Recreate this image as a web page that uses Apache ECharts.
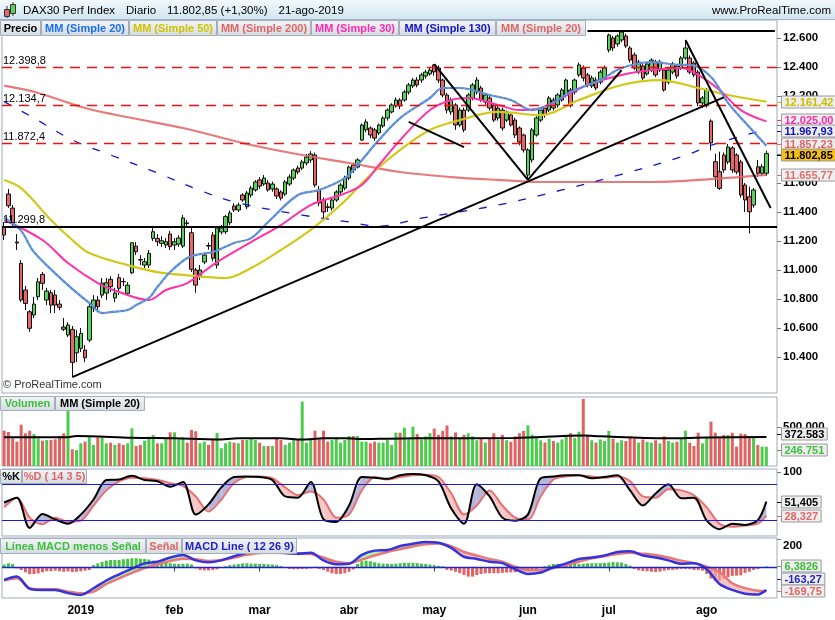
<!DOCTYPE html>
<html><head><meta charset="utf-8">
<script src="https://cdn.jsdelivr.net/npm/echarts@6.0.0/dist/echarts.min.js"></script>
<style>html,body{margin:0;padding:0;background:#fff;}#chart{width:835px;height:620px;}</style>
</head><body><div id="chart"></div>
<script>
const dates = ["2018-11-30",
"2018-12-03","2018-12-04","2018-12-05","2018-12-06","2018-12-07","2018-12-10","2018-12-11","2018-12-12","2018-12-13","2018-12-14","2018-12-17","2018-12-18","2018-12-19","2018-12-20","2018-12-21","2018-12-27","2018-12-28",
"2019-01-02","2019-01-03","2019-01-04","2019-01-07","2019-01-08","2019-01-09","2019-01-10","2019-01-11","2019-01-14","2019-01-15","2019-01-16","2019-01-17","2019-01-18","2019-01-21","2019-01-22","2019-01-23","2019-01-24","2019-01-25","2019-01-28","2019-01-29","2019-01-30","2019-01-31",
"2019-02-01","2019-02-04","2019-02-05","2019-02-06","2019-02-07","2019-02-08","2019-02-11","2019-02-12","2019-02-13","2019-02-14","2019-02-15","2019-02-18","2019-02-19","2019-02-20","2019-02-21","2019-02-22","2019-02-25","2019-02-26","2019-02-27","2019-02-28",
"2019-03-01","2019-03-04","2019-03-05","2019-03-06","2019-03-07","2019-03-08","2019-03-11","2019-03-12","2019-03-13","2019-03-14","2019-03-15","2019-03-18","2019-03-19","2019-03-20","2019-03-21","2019-03-22","2019-03-25","2019-03-26","2019-03-27","2019-03-28","2019-03-29",
"2019-04-01","2019-04-02","2019-04-03","2019-04-04","2019-04-05","2019-04-08","2019-04-09","2019-04-10","2019-04-11","2019-04-12","2019-04-15","2019-04-16","2019-04-17","2019-04-18","2019-04-23","2019-04-24","2019-04-25","2019-04-26","2019-04-29","2019-04-30",
"2019-05-02","2019-05-03","2019-05-06","2019-05-07","2019-05-08","2019-05-09","2019-05-10","2019-05-13","2019-05-14","2019-05-15","2019-05-16","2019-05-17","2019-05-20","2019-05-21","2019-05-22","2019-05-23","2019-05-24","2019-05-27","2019-05-28","2019-05-29","2019-05-30","2019-05-31",
"2019-06-03","2019-06-04","2019-06-05","2019-06-06","2019-06-07","2019-06-11","2019-06-12","2019-06-13","2019-06-14","2019-06-17","2019-06-18","2019-06-19","2019-06-20","2019-06-21","2019-06-24","2019-06-25","2019-06-26","2019-06-27","2019-06-28",
"2019-07-01","2019-07-02","2019-07-03","2019-07-04","2019-07-05","2019-07-08","2019-07-09","2019-07-10","2019-07-11","2019-07-12","2019-07-15","2019-07-16","2019-07-17","2019-07-18","2019-07-19","2019-07-22","2019-07-23","2019-07-24","2019-07-25","2019-07-26","2019-07-29","2019-07-30","2019-07-31",
"2019-08-01","2019-08-02","2019-08-05","2019-08-06","2019-08-07","2019-08-08","2019-08-09","2019-08-12","2019-08-13","2019-08-14","2019-08-15","2019-08-16","2019-08-19","2019-08-20","2019-08-21"];

const openP = [11299,11524,11427,11193,11046,10862,10712,10690,10816,10970,
10793,10843,10828,10765,10607,10552,10591,10429,10460,10448,
10517,10738,10793,10827,10841,10936,10807,10947,10921,10839,
10981,11165,11072,11034,11034,11218,11218,11184,11172,11248,
11172,11179,11165,11325,11257,11000,10954,11055,11169,11241,
11034,11262,11264,11326,11441,11414,11517,11436,11517,11552,
11621,11593,11600,11559,11559,11538,11524,11593,11634,11703,
11703,11738,11759,11793,11552,11483,11436,11427,11483,11538,
11565,11634,11724,11710,11896,11966,11979,11966,11945,11993,
12048,12090,12131,12172,12172,12227,12269,12310,12310,12338,
12352,12414,12393,12310,12207,12090,12138,12000,12103,12103,
12186,12227,12255,12158,12186,12138,12048,12103,12034,12069,
12034,11979,11931,11655,11759,11931,12034,12117,12103,12172,
12138,12172,12207,12241,12227,12345,12393,12345,12269,12310,
12296,12324,12517,12600,12559,12586,12614,12531,12483,12365,
12407,12352,12379,12434,12379,12379,12296,12365,12407,12393,
12462,12462,12428,12365,12152,12138,12027,11747,11678,11793,
11745,11841,11793,11745,11586,11505,11448,11712,11667,11667];
const highP = [11331,11559,11448,11248,11069,10890,10724,10814,10945,10986,
10876,10862,10862,10793,10669,10641,10614,10586,10600,10483,
10765,10827,10820,10945,10945,10958,10876,10972,10945,10917,
11193,11193,11103,11083,11138,11290,11248,11234,11220,11269,
11220,11240,11379,11345,11290,11014,11034,11120,11190,11262,
11300,11310,11380,11410,11460,11465,11530,11545,11580,11620,
11640,11655,11620,11610,11570,11550,11620,11660,11700,11720,
11760,11800,11820,11810,11580,11500,11460,11500,11550,11600,
11650,11720,11740,11770,12010,12040,11990,11980,12010,12060,
12115,12150,12190,12185,12240,12290,12325,12330,12360,12380,
12395,12420,12410,12320,12220,12190,12150,12120,12120,12220,
12290,12330,12270,12220,12200,12150,12130,12120,12100,12080,
12050,11990,11940,11840,11980,12060,12115,12130,12200,12190,
12220,12255,12320,12255,12320,12430,12410,12360,12340,12330,
12380,12410,12630,12615,12625,12655,12630,12545,12500,12450,
12420,12435,12460,12450,12450,12390,12390,12435,12420,12475,
12586,12480,12440,12380,12200,12255,12040,11803,11816,11810,
11870,11855,11805,11760,11600,11575,11565,11759,11730,11823];
const lowP = [11207,11428,11303,11138,10779,10724,10574,10669,10793,10862,
10758,10703,10703,10724,10579,10538,10264,10365,10434,10365,
10503,10710,10710,10807,10793,10848,10779,10827,10890,10821,
10972,11103,11034,11014,11014,11200,11165,11159,11152,11138,
11138,11160,11152,11290,10986,10843,10931,11040,11140,11060,
11010,11245,11248,11310,11400,11400,11470,11420,11500,11540,
11560,11580,11540,11540,11490,11480,11510,11580,11620,11660,
11690,11720,11740,11570,11440,11350,11400,11410,11470,11520,
11550,11620,11670,11700,11890,11950,11910,11890,11930,11980,
12030,12080,12120,12110,12160,12210,12255,12260,12290,12320,
12340,12340,12290,12190,12080,12070,11966,11985,11950,12090,
12170,12210,12160,12140,12100,12020,12030,11960,12020,11990,
11910,11860,11810,11621,11740,11920,12020,12050,12090,12100,
12120,12160,12190,12120,12210,12330,12300,12260,12255,12240,
12280,12310,12500,12510,12540,12570,12530,12430,12380,12350,
12310,12340,12365,12330,12365,12230,12280,12350,12320,12380,
12450,12350,12330,12130,12120,12120,11825,11573,11552,11670,
11730,11670,11660,11500,11400,11253,11430,11643,11650,11650];
const closeP = [11241,11443,11324,11186,10793,10770,10598,10765,10919,10908,
10855,10758,10758,10743,10591,10621,10363,10540,10563,10395,
10747,10793,10747,10910,10912,10885,10841,10874,10919,10896,
11188,11126,11069,11057,11115,11264,11195,11202,11195,11161,
11195,11221,11359,11320,11005,10896,11000,11103,11165,11081,
11290,11290,11368,11393,11414,11448,11483,11531,11565,11607,
11579,11634,11552,11593,11510,11496,11607,11641,11690,11676,
11745,11779,11800,11586,11462,11400,11431,11483,11538,11586,
11634,11710,11690,11759,12000,12021,11931,11910,12000,12048,
12103,12138,12172,12131,12227,12276,12310,12276,12345,12365,
12379,12366,12310,12207,12103,12172,12000,12103,11966,12207,
12276,12310,12172,12207,12117,12034,12117,11979,12090,12000,
11931,11883,11828,11828,11966,12048,12103,12069,12186,12117,
12207,12241,12310,12138,12310,12414,12324,12276,12324,12255,
12365,12393,12620,12531,12614,12641,12545,12448,12393,12434,
12324,12421,12448,12345,12434,12241,12379,12421,12338,12462,
12531,12365,12345,12152,12186,12241,11876,11643,11563,11690,
11848,11690,11676,11517,11483,11402,11552,11667,11712,11802.85];

const volume = [453000,436000,355000,312000,530000,419000,453000,410000,355000,325000,
333000,333000,342000,385000,419000,718000,214000,205000,291000,312000,
376000,269000,368000,368000,291000,299000,269000,291000,269000,291000,
483000,256000,269000,325000,376000,397000,291000,291000,355000,432000,
432000,342000,368000,299000,462000,445000,291000,312000,269000,342000,
423000,227000,291000,312000,299000,291000,333000,333000,355000,333000,
299000,256000,256000,256000,368000,333000,269000,299000,342000,342000,
825000,299000,342000,453000,342000,453000,312000,333000,368000,299000,
333000,385000,385000,385000,312000,312000,291000,312000,299000,299000,
333000,269000,427000,427000,491000,342000,504000,410000,340000,380000,
420000,480000,400000,450000,520000,380000,430000,350000,400000,420000,
380000,330000,350000,300000,360000,420000,340000,400000,330000,310000,
380000,420000,450000,520000,400000,380000,330000,300000,350000,320000,
300000,340000,380000,420000,360000,440000,860000,400000,330000,300000,
340000,320000,450000,350000,300000,330000,320000,380000,350000,300000,
340000,310000,300000,330000,290000,380000,320000,300000,310000,346000,
453000,299000,256000,427000,291000,368000,568000,427000,355000,397000,
397000,427000,248000,415000,410000,385000,376000,269000,248000,246751];
const volumeMA20 = [[0,368000],[15,370000],[17,385000],[30,362000],[40,355000],[50,340000],[55,355000],[65,355000],[70,340000],[75,355000],[80,355000],[85,345000],[90,350000],[97,355000],[120,360000],[136,390000],[140,380000],[155,355000],[165,365000],[179,372583]];

const ma20 = [[0,11360],[4,11270],[7,11124],[15,10896],[20,10773],[23,10703],[25,10710],[29,10724],[31,10758],[34,10807],[36,10883],[39,10986],[43,11083],[46,11110],[49,11124],[54,11186],[58,11220],[62,11331],[69,11517],[74,11552],[80,11634],[83,11724],[88,11896],[93,12048],[100,12186],[103,12255],[107,12255],[114,12207],[119,12172],[124,12103],[128,12138],[133,12228],[140,12310],[145,12393],[152,12434],[159,12414],[161,12414],[166,12331],[170,12152],[175,11986],[179,11857.23]];
const ma30 = [[0,11345],[9,11207],[15,11048],[22,10910],[27,10848],[34,10793],[38,10862],[43,10910],[50,11055],[58,11193],[65,11310],[72,11448],[79,11517],[84,11586],[88,11724],[93,11896],[100,12103],[105,12172],[109,12186],[116,12138],[121,12103],[126,12117],[130,12172],[137,12276],[145,12345],[152,12379],[159,12393],[163,12345],[168,12241],[173,12103],[179,12025.00]];
const ma50 = [[0,11621],[4,11565],[11,11345],[16,11207],[20,11117],[29,11034],[36,10986],[42,10966],[52,10945],[58,11014],[65,11138],[72,11276],[79,11448],[86,11655],[93,11828],[100,11966],[107,12034],[116,12090],[126,12069],[135,12172],[145,12276],[154,12310],[163,12255],[170,12207],[179,12161.42]];
const ma130 = [[0,12161],[7,12048],[16,11897],[25,11793],[36,11669],[47,11538],[55,11462],[70,11379],[81,11331],[88,11303],[98,11358],[116,11448],[131,11552],[145,11660],[159,11780],[168,11880],[179,11967.93]];
const ma200 = [[0,12271],[8,12221],[19,12117],[30,12048],[42,11979],[58,11862],[70,11793],[81,11738],[93,11676],[105,11641],[116,11621],[126,11607],[140,11607],[152,11607],[163,11621],[179,11655.77]];

const levelLines = [12398.8, 12134.7, 11872.4];
const supportLine = 11299.8;
// trend lines: [startIndex, startValue, endIndex, endValue]
const trendLines = [[16,10262,169,12190],[101,12420,123,11621],[123,11621,145,12379],[95,12021,108,11848],[160,12586,180,11428],[137,12652,181,12652]];

const priceTicks = [10400,10600,10800,11000,11200,11400,11600,11800,12000,12200,12400,12600];
const volumeTicks = [500000];
const stochTicks = [100];
const macdTicks = [200];

const sampleIdx = [0,3,6,9,12,15,18,21,24,27,30,33,36,39,42,45,48,51,54,57,60,63,66,69,72,75,78,81,84,87,90,93,96,99,102,105,108,111,114,117,120,123,126,129,132,135,138,141,144,147,150,153,156,159,162,165,168,171,174,177,179];
const stochK = [50,58,8,31,22,15,30,55,87,88,94,87,85,76,84,30,47,75,92,93,92,87,60,58,84,22,18,45,92,91,89,95,97,95,85,40,15,80,60,25,20,30,90,93,95,95,90,92,95,70,45,65,80,57,58,20,6,15,13,21,51.405];
const stochD = [42,58,25,14,25,18,20,45,70,85,91,90,87,82,77,60,35,55,82,92,93,90,75,62,68,55,25,30,70,92,88,92,95,96,92,65,30,45,70,45,25,22,60,88,93,95,93,91,93,85,60,58,72,70,62,42,15,10,12,15,28.327];
const macdLine = [-91,-67,-155,-163,-163,-185,-199,-151,-95,-51,-10,28,40,70,88,50,36,50,80,105,118,115,102,98,105,50,22,25,90,120,124,153,170,182,177,140,76,60,40,30,-14,-48,-38,0,28,60,70,85,110,115,85,70,50,25,30,-14,-120,-163,-190,-195,-163.27];
const macdSignal = [-95,-79,-150,-158,-158,-175,-187,-175,-120,-80,-40,-5,20,45,62,58,45,52,70,90,102,105,102,100,96,70,40,30,55,85,110,130,150,165,172,152,110,85,60,40,5,-19,-19,-5,15,40,64,80,95,105,98,88,70,48,30,4,-35,-115,-150,-168,-169.75];
const macdHist = [20,29,24,-8,-20,-36,-50,-48,-44,-36,
-28,-28,-24,-28,-32,-30,-34,-32,-28,-24,
-20,16,28,40,48,53,53,53,58,60,
65,65,62,60,56,48,44,40,34,30,
26,24,26,26,20,-8,-19,-22,-22,-19,
-14,-4,8,16,20,24,28,29,26,26,
24,24,22,20,16,10,-4,-12,-14,-14,
-12,-12,-8,4,-12,-19,-32,-43,-48,-48,
-43,-32,-16,24,44,48,44,36,29,26,
26,24,26,29,32,32,32,30,26,24,
20,16,11,8,-19,-24,-32,-43,-56,-67,
-67,-56,-48,-43,-43,-43,-43,-40,-38,-37,
-36,-28,-22,-19,-14,-12,-6,8,16,24,
24,24,26,29,26,24,26,29,29,29,
30,32,34,38,36,34,24,12,-12,-22,
-27,-29,-32,-34,-31,-24,-19,-19,-16,-12,
-12,-14,-19,-19,-24,-48,-80,-96,-96,-84,
-72,-62,-60,-58,-40,-32,-19,-12,-5,6.3826];

const monthNames = ['2019','feb','mar','abr','may','jun','jul','ago','sep','oct','nov','dic'];
const headerItems = ['DAX30 Perf Index', 'Diario', '11.802,85 (+1,30%)', '21-ago-2019'];

// ---------------------------------------------------------------
const FONT = '"Liberation Sans", Arial, sans-serif';
const cats = dates.concat(['', '']);
const GREEN = '#5ad25a', RED = '#e46868';
function fmt(v, d) {
  const s = Math.abs(v).toFixed(d);
  let [a, b] = s.split('.');
  a = a.replace(/\B(?=(\d{3})+(?!\d))/g, '.');
  return (v < 0 ? '-' : '') + a + (b ? ',' + b : '');
}
function isMonthStart(i) {
  if (i <= 0 || i >= dates.length) return false;
  return dates[i].slice(0, 7) !== dates[i - 1].slice(0, 7) && dates[i].slice(0, 4) === '2019';
}
const gridBoxes = [
  {left: 2, width: 775, top: 20, height: 373},
  {left: 2, width: 775, top: 397, height: 69},
  {left: 2, width: 775, top: 469, height: 67},
  {left: 2, width: 775, top: 538, height: 60}
];
const grids = gridBoxes.map(g => Object.assign({}, g, {show: true, borderColor: '#9eabb8', borderWidth: 1, backgroundColor: '#fff', containLabel: false, outerBoundsMode: 'none'}));

const xAxes = grids.map((g, gi) => ({
  type: 'category', gridIndex: gi, data: cats, boundaryGap: true,
  axisLine: {show: false}, splitLine: {show: false},
  axisTick: gi === 3 ? {show: true, alignWithLabel: true, interval: (i) => isMonthStart(i), length: 4, inside: false, lineStyle: {color: '#333'}} : {show: false},
  axisLabel: gi === 3 ? {show: true, interval: (i) => isMonthStart(i), margin: 7,
    formatter: (v) => v ? monthNames[parseInt(v.slice(5, 7), 10) - 1] : '',
    color: '#000', fontWeight: 'bold', fontSize: 12, fontFamily: FONT} : {show: false}
}));
function yAx(gi, min, max, ticks, dec, vAlign) {
  return {type: 'value', gridIndex: gi, position: 'right', min, max, scale: true,
    axisLine: {show: false}, splitLine: {show: false},
    axisTick: {show: true, customValues: ticks, length: 4, lineStyle: {color: '#6d7b88'}},
    axisLabel: {show: true, customValues: ticks, formatter: (v) => fmt(v, dec), color: '#000', fontWeight: 'bold', fontSize: 11.5, fontFamily: FONT, margin: 6, verticalAlign: vAlign || 'middle'}};
}
const yAxes = [
  yAx(0, 10152, 12724, priceTicks, 0),
  yAx(1, 0, 884580, volumeTicks, 0),
  yAx(2, -5.3, 105.3, stochTicks, 0),
  yAx(3, -220.9, 210.8, macdTicks, 0, 'top')
];

function fillRender(pos, neg) {
  return function (params, api) {
    const x0 = api.value(0), a0 = api.value(1), b0 = api.value(2), x1 = api.value(3), a1 = api.value(4), b1 = api.value(5);
    const pa0 = api.coord([x0, a0]), pb0 = api.coord([x0, b0]), pa1 = api.coord([x1, a1]), pb1 = api.coord([x1, b1]);
    const d0 = a0 - b0, d1 = a1 - b1;
    if (d0 * d1 >= 0) return {type: 'polygon', shape: {points: [pa0, pa1, pb1, pb0]}, style: {fill: (d0 + d1) >= 0 ? pos : neg}};
    const t = d0 / (d0 - d1);
    const pc = [pa0[0] + t * (pa1[0] - pa0[0]), pa0[1] + t * (pa1[1] - pa0[1])];
    return {type: 'group', children: [
      {type: 'polygon', shape: {points: [pa0, pc, pb0]}, style: {fill: d0 > 0 ? pos : neg}},
      {type: 'polygon', shape: {points: [pc, pa1, pb1]}, style: {fill: d1 > 0 ? pos : neg}}]};
  };
}
function pairs(idx, a, b) {
  const out = [];
  for (let k = 0; k < idx.length - 1; k++) out.push([idx[k], a[k], b[k], idx[k + 1], a[k + 1], b[k + 1]]);
  return out;
}
const zipIdx = (idx, a) => idx.map((x, k) => [x, a[k]]);
function maLine(data, color, width, type, z) {
  return {type: 'line', xAxisIndex: 0, yAxisIndex: 0, data, showSymbol: false, symbol: 'none', smooth: 0.35,
    lineStyle: {color, width, type: type || 'solid'}, z: z || 3, silent: true, animation: false};
}
const lvlLabel = (v) => ({show: true, position: 'insideStartTop', formatter: fmt(v, 1), color: '#000', fontSize: 11, fontFamily: FONT, distance: [1, 1]});
const markLineData = levelLines.map(v => ({yAxis: v, lineStyle: {color: '#ee1111', type: [10, 7], width: 1.3}, label: lvlLabel(v)}))
  .concat([{yAxis: supportLine, lineStyle: {color: '#000', type: 'solid', width: 2}, label: lvlLabel(supportLine)}])
  .concat(trendLines.map(t => [{coord: [t[0], t[1]], lineStyle: {color: '#000', width: 2, type: 'solid'}, label: {show: false}}, {coord: [t[2], t[3]]}]));

const series = [
  {type: 'candlestick', xAxisIndex: 0, yAxisIndex: 0, barWidth: 4, z: 2, animation: false,
    data: dates.map((d, i) => [openP[i], closeP[i], lowP[i], highP[i]]),
    itemStyle: {color: GREEN, color0: RED, borderColor: '#111', borderColor0: '#111', borderWidth: 1}},
  maLine(ma200, 'rgba(224,100,100,0.85)', 2.2),
  maLine(ma130, '#1414c8', 1.3, [8, 12]),
  maLine(ma50, '#d2c81a', 2.2),
  maLine(ma30, '#ff30a8', 2),
  maLine(ma20, '#3f8fea', 2.2),
  maLine(ma20, '#f08a8a', 1, [2, 3], 4),
  {type: 'line', xAxisIndex: 0, yAxisIndex: 0, data: [], z: 5, silent: true, animation: false,
    markLine: {symbol: ['none', 'none'], silent: true, animation: false, data: markLineData}},
  {type: 'bar', xAxisIndex: 1, yAxisIndex: 1, barWidth: 3, animation: false,
    data: volume.map((v, i) => ({value: v, itemStyle: {color: closeP[i] >= openP[i] ? '#4ccc4c' : '#e26262'}}))},
  {type: 'line', xAxisIndex: 1, yAxisIndex: 1, data: volumeMA20, showSymbol: false, smooth: 0.3, lineStyle: {color: '#000', width: 2}, z: 3, animation: false},
  {type: 'custom', xAxisIndex: 2, yAxisIndex: 2, data: pairs(sampleIdx, stochK, stochD), encode: {x: [0, 3], y: [1, 2, 4, 5]},
    renderItem: fillRender('#b6b6dc', '#f6c6c6'), z: 1, silent: true, animation: false},
  {type: 'line', xAxisIndex: 2, yAxisIndex: 2, data: zipIdx(sampleIdx, stochD), showSymbol: false, smooth: 0.3, lineStyle: {color: '#e87070', width: 2}, z: 3, animation: false,
    markLine: {symbol: ['none', 'none'], silent: true, animation: false, label: {show: false},
      lineStyle: {color: '#1a1ad8', width: 1.2, type: 'solid'}, data: [{yAxis: 80}, {yAxis: 20}]}},
  {type: 'line', xAxisIndex: 2, yAxisIndex: 2, data: zipIdx(sampleIdx, stochK), showSymbol: false, smooth: 0.3, lineStyle: {color: '#000', width: 2}, z: 4, animation: false},
  {type: 'bar', xAxisIndex: 3, yAxisIndex: 3, barWidth: 3, z: 1, animation: false,
    data: macdHist.map(v => ({value: v, itemStyle: {color: v >= 0 ? '#44c444' : '#e26262'}})),
    markLine: {symbol: ['none', 'none'], silent: true, animation: false, label: {show: false},
      lineStyle: {color: '#2222cc', width: 1.3, type: 'solid'}, data: [{yAxis: 0}]}},
  {type: 'custom', xAxisIndex: 3, yAxisIndex: 3, data: pairs(sampleIdx, macdLine, macdSignal), encode: {x: [0, 3], y: [1, 2, 4, 5]},
    renderItem: fillRender('rgba(150,230,150,0.75)', 'rgba(244,170,170,0.7)'), z: 2, silent: true, animation: false},
  {type: 'line', xAxisIndex: 3, yAxisIndex: 3, data: zipIdx(sampleIdx, macdSignal), showSymbol: false, smooth: 0.3, lineStyle: {color: '#e87878', width: 2.5}, z: 3, animation: false},
  {type: 'line', xAxisIndex: 3, yAxisIndex: 3, data: zipIdx(sampleIdx, macdLine), showSymbol: false, smooth: 0.3, lineStyle: {color: '#3434dc', width: 2.5}, z: 4, animation: false}
];

const chart = echarts.init(document.getElementById('chart'), null, {renderer: 'canvas', width: 835, height: 620});
chart.setOption({animation: false, backgroundColor: '#fff', textStyle: {fontFamily: FONT}, grid: grids, xAxis: xAxes, yAxis: yAxes, series});

// ---- static graphics: header, legends, value boxes ----
const mctx = document.createElement('canvas').getContext('2d');
function tw(t, font) { mctx.font = font; return mctx.measureText(t).width; }
const BOLD = 'bold 11px ' + FONT;
function legendBox(x, y, w, h, text, color) {
  return [{type: 'rect', shape: {x: x + 0.5, y: y + 0.5, width: w, height: h},
      style: {fill: {type: 'linear', x: 0, y: 0, x2: 0, y2: 1, colorStops: [{offset: 0, color: '#f3f5f7'}, {offset: 1, color: '#d5dbe1'}]}, stroke: '#a3b0bc', lineWidth: 1}, z: 100},
    {type: 'text', x: x + w / 2 + 0.5, y: y + h / 2 + 1, style: {text, fill: color, font: BOLD, align: 'center', verticalAlign: 'middle'}, z: 101}];
}
const els = [];
els.push({type: 'rect', shape: {x: 0, y: 0, width: 835, height: 20},
  style: {fill: {type: 'linear', x: 0, y: 0, x2: 0, y2: 1, colorStops: [{offset: 0, color: '#f2f9fd'}, {offset: 1, color: '#cfe4f0'}]}}, z: 99});
els.push({type: 'line', shape: {x1: 0, y1: 19.5, x2: 835, y2: 19.5}, style: {stroke: '#9fb3c3', lineWidth: 1}, z: 100});
// candle icon
els.push({type: 'line', shape: {x1: 7, y1: 6, x2: 7, y2: 18}, style: {stroke: '#333'}, z: 100});
els.push({type: 'rect', shape: {x: 4.5, y: 9.5, width: 5, height: 7}, style: {fill: RED, stroke: '#333'}, z: 101});
els.push({type: 'line', shape: {x1: 13, y1: 2, x2: 13, y2: 16}, style: {stroke: '#333'}, z: 100});
els.push({type: 'rect', shape: {x: 10.5, y: 4.5, width: 5, height: 9}, style: {fill: GREEN, stroke: '#333'}, z: 101});
const HF = '11.5px ' + FONT;
let hx = 23;
headerItems.forEach(t => {
  els.push({type: 'text', x: hx, y: 11, style: {text: t, fill: '#000', font: HF, verticalAlign: 'middle'}, z: 101});
  hx += tw(t, HF) + 11;
});
els.push({type: 'text', x: 831, y: 11, style: {text: 'www.ProRealTime.com', fill: '#000', font: HF, align: 'right', verticalAlign: 'middle'}, z: 101});
// main legends
[['Precio', 0, 40, '#000'], ['MM (Simple 20)', 41, 87, '#1a6ff5'], ['MM (Simple 50)', 129, 87, '#d0c400'], ['MM (Simple 200)', 217, 93, '#e06666'],
 ['MM (Simple 30)', 311, 87, '#ff2ab0'], ['MM (Simple 130)', 399, 96, '#1212c8'], ['MM (Simple 20)', 496, 89, '#e06666']]
  .forEach(([t, x, w, c]) => els.push(...legendBox(x, 20, w, 15, t, c)));
[['Volumen', 0, 54, '#3cbf3c'], ['MM (Simple 20)', 55, 89, '#000']].forEach(([t, x, w, c]) => els.push(...legendBox(x, 396, w, 14, t, c)));
[['%K', 0, 21, '#000'], ['%D ( 14 3 5)', 22, 64, '#e06666']].forEach(([t, x, w, c]) => els.push(...legendBox(x, 469, w, 14, t, c)));
[['Línea MACD menos Señal', 0, 145, '#3cbf3c'], ['Señal', 146, 35, '#e06666'], ['MACD Line ( 12 26 9)', 182, 114, '#2222cc']]
  .forEach(([t, x, w, c]) => els.push(...legendBox(x, 538, w, 15, t, c)));
els.push({type: 'text', x: 3, y: 385, style: {text: '© ProRealTime.com', fill: '#333', font: '11px ' + FONT, verticalAlign: 'middle'}, z: 101});

// value boxes on right axis
const last = (arr) => Array.isArray(arr[arr.length - 1]) ? arr[arr.length - 1][1] : arr[arr.length - 1];
const boxSpecs = [
  {ax: 0, v: last(ma50), d: 2, color: '#c8be00'},
  {ax: 0, v: last(ma30), d: 2, color: '#ff2aa8'},
  {ax: 0, v: last(ma130), d: 2, color: '#1010c0'},
  {ax: 0, v: last(ma20), d: 2, color: '#e06666'},
  {ax: 0, v: last(closeP), d: 2, color: '#000', bg: '#f7bf10'},
  {ax: 0, v: last(ma200), d: 2, color: '#e07070'},
  {ax: 1, v: last(volumeMA20), d: 0, color: '#000'},
  {ax: 1, v: last(volume), d: 0, color: '#3cbf3c'},
  {ax: 2, v: last(stochK), d: 3, color: '#000'},
  {ax: 2, v: last(stochD), d: 3, color: '#e06666'},
  {ax: 3, v: last(macdHist), d: 4, color: '#3cbf3c'},
  {ax: 3, v: last(macdLine), d: 2, color: '#2020d0'},
  {ax: 3, v: last(macdSignal), d: 2, color: '#e06666'}
];
const minGap = {0: 11.5, 1: 16, 2: 12, 3: 12};
const groups = {};
boxSpecs.forEach(s => { s.y = chart.convertToPixel({yAxisIndex: s.ax}, s.v); s.txt = fmt(s.v, s.d); (groups[s.ax] = groups[s.ax] || []).push(s); });
Object.keys(groups).forEach(ax => {
  const g = groups[ax], gap0 = minGap[ax], gb = gridBoxes[ax];
  g.sort((a, b) => a.y - b.y);
  for (let it = 0; it < 30; it++) {
    for (let k = 0; k < g.length - 1; k++) {
      const gap = g[k + 1].y - g[k].y;
      if (gap < gap0) { const m = (gap0 - gap) / 2; g[k].y -= m; g[k + 1].y += m; }
    }
    const bottom = gb.top + gb.height - 7;
    if (g[g.length - 1].y > bottom) {
      g[g.length - 1].y = bottom;
      for (let k = g.length - 2; k >= 0; k--) if (g[k + 1].y - g[k].y < gap0) g[k].y = g[k + 1].y - gap0;
    }
  }
});
boxSpecs.forEach(s => {
  const w = tw(s.txt, BOLD) + 6, y = Math.round(s.y);
  els.push({type: 'line', shape: {x1: 777, y1: y + 0.5, x2: 781, y2: y + 0.5}, style: {stroke: s.color, lineWidth: 1}, z: 100});
  els.push({type: 'rect', shape: {x: 781.5, y: y - 6, width: w, height: 12}, style: {fill: s.bg || '#eeeeee', stroke: '#9a9a9a', lineWidth: 1}, z: 100});
  els.push({type: 'text', x: 784.5, y: y + 0.5, style: {text: s.txt, fill: s.color, font: BOLD, verticalAlign: 'middle'}, z: 101});
});
chart.setOption({graphic: {elements: els}});
</script></body></html>
